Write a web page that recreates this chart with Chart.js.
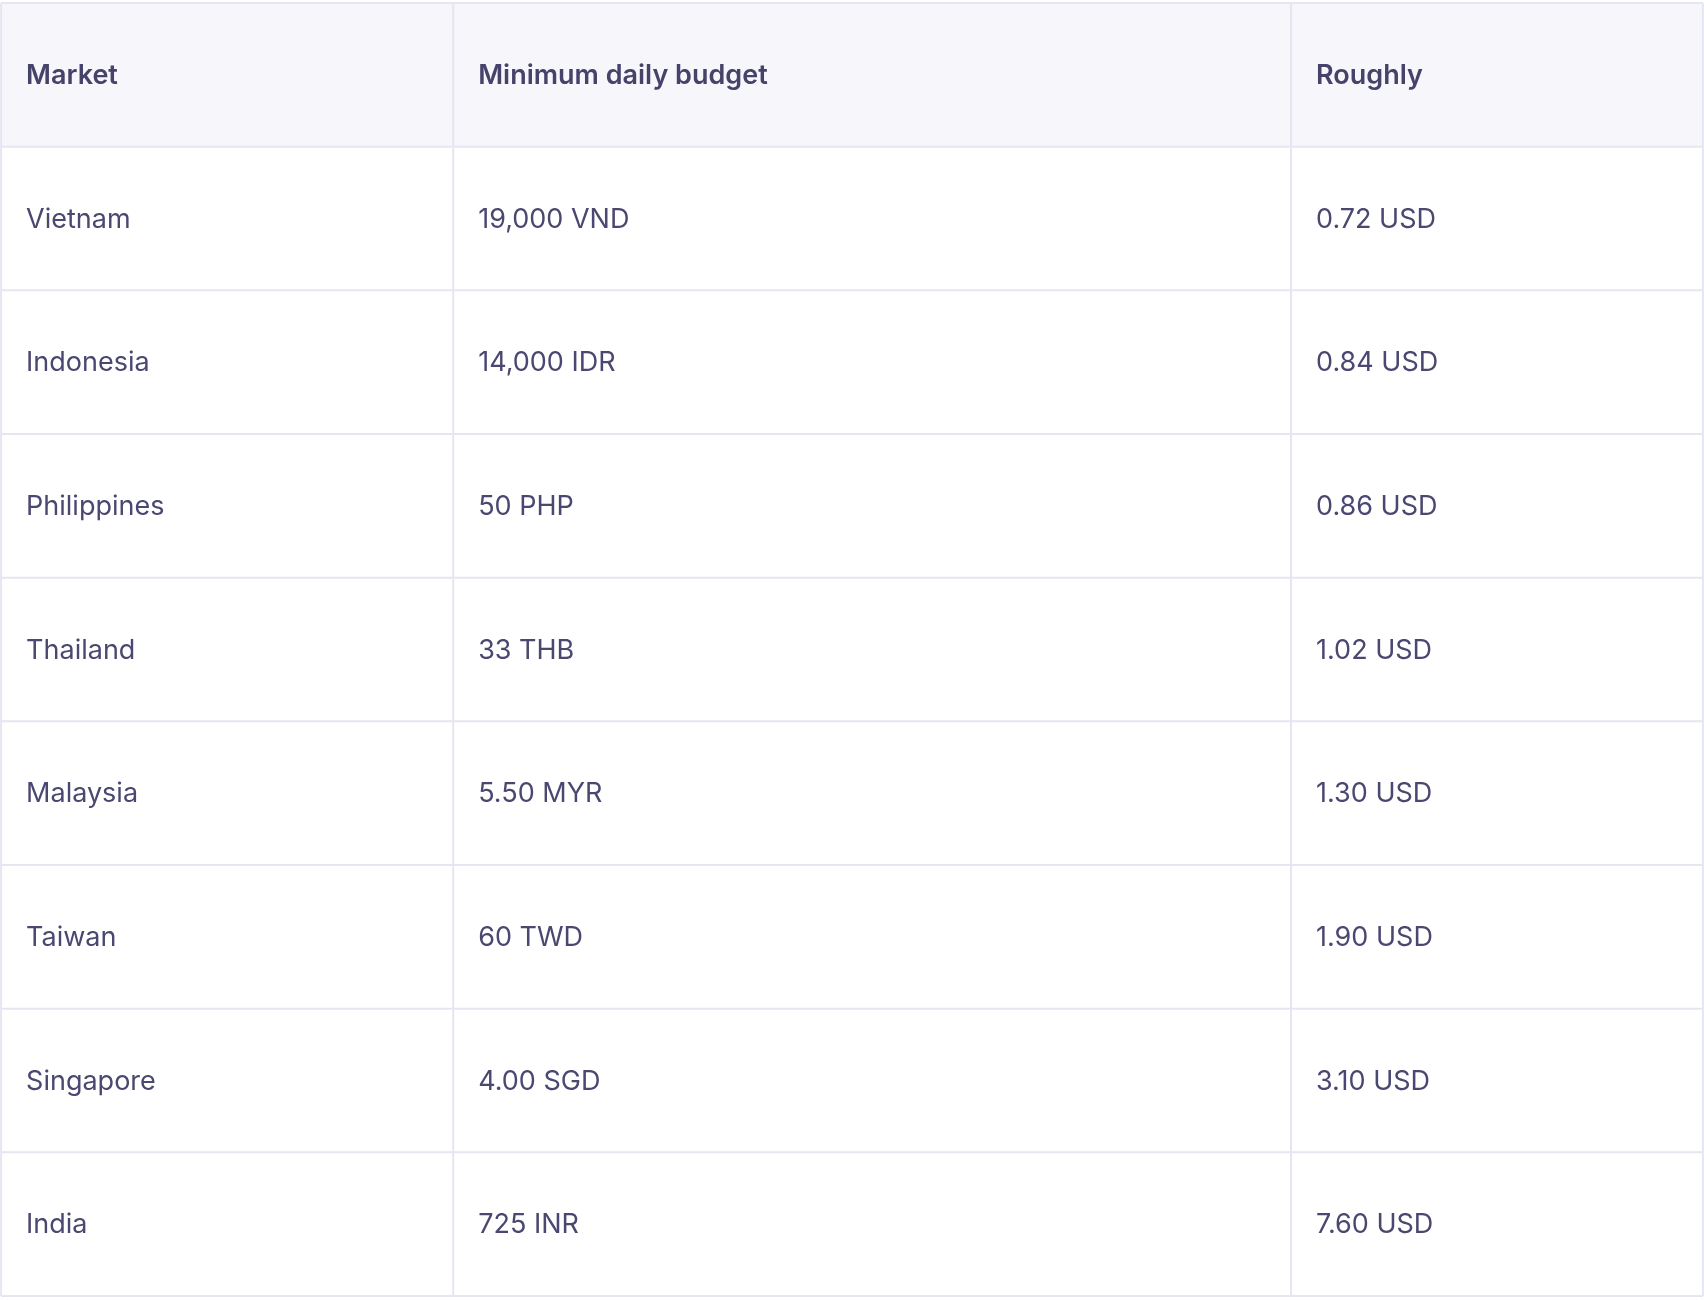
<!DOCTYPE html>
<html>
<head>
<meta charset="utf-8">
<script src="https://cdn.jsdelivr.net/npm/chart.js@4"></script>
<style>
  body { margin: 0; background: #fff; overflow: hidden; }
  #wrap { width: 1704px; height: 1300px; }
</style>
</head>
<body>
<div id="wrap"><canvas id="budgetTable"></canvas></div>
<script>
const headers = ['Market', 'Minimum daily budget', 'Roughly'];
const markets = ['Vietnam', 'Indonesia', 'Philippines', 'Thailand', 'Malaysia', 'Taiwan', 'Singapore', 'India'];
const localBudgets = ['19,000 VND', '14,000 IDR', '50 PHP', '33 THB', '5.50 MYR', '60 TWD', '4.00 SGD', '725 INR'];
const usdBudgets = [0.72, 0.84, 0.86, 1.02, 1.30, 1.90, 3.10, 7.60];

// column edges in x-scale units
const colEdges = [1, 417, 1188, 1567];

const tablePlugin = {
    id: 'tableCells',
    afterDraw(chart) {
        const ctx = chart.ctx;
        const x = chart.scales.x, y = chart.scales.y;
        const k = chart.width / 1568;
        const rows = y.getLabels().length;
        const band = (y.getPixelForValue(1) - y.getPixelForValue(0));
        const left = x.getPixelForValue(colEdges[0]);
        const right = x.getPixelForValue(colEdges[colEdges.length - 1]);
        const top = y.getPixelForValue(0) - band / 2;
        const bottom = y.getPixelForValue(rows - 1) + band / 2;

        ctx.save();
        ctx.fillStyle = '#f6f6fb';
        ctx.fillRect(left, top, right - left, band);

        ctx.strokeStyle = '#e6e6f2';
        ctx.lineWidth = 2;
        ctx.beginPath();
        for (let i = 0; i <= rows; i++) {
            const py = top + i * band;
            ctx.moveTo(left, py); ctx.lineTo(right, py);
        }
        colEdges.forEach(c => {
            const px = x.getPixelForValue(c);
            ctx.moveTo(px, top); ctx.lineTo(px, bottom);
        });
        ctx.stroke();

        ctx.textBaseline = 'middle';
        for (let r = 0; r < rows; r++) {
            const cy = y.getPixelForValue(r);
            const cells = r === 0 ? headers
                : [markets[r - 1], localBudgets[r - 1], usdBudgets[r - 1].toFixed(2) + ' USD'];
            ctx.font = (r === 0 ? '600 ' : '400 ') + Math.round(24.5 * k) + 'px Inter, "Noto Sans", sans-serif';
            ctx.fillStyle = r === 0 ? '#46436b' : '#4a4770';
            cells.forEach((t, c) => {
                ctx.fillText(t, x.getPixelForValue(colEdges[c]) + 23 * k, cy + 1);
            });
        }
        ctx.restore();
    }
};

new Chart(document.getElementById('budgetTable'), {
    type: 'bar',
    data: {
        labels: [headers[0], ...markets],
        datasets: [{
            label: 'USD',
            data: [null, ...usdBudgets],
            backgroundColor: 'rgba(0,0,0,0)'
        }]
    },
    options: {
        indexAxis: 'y',
        responsive: true,
        maintainAspectRatio: false,
        animation: false,
        layout: { padding: { top: 3, bottom: 4 } },
        plugins: { legend: { display: false }, tooltip: { enabled: false } },
        scales: {
            x: { type: 'linear', min: 0, max: 1568, display: false },
            y: { type: 'category', offset: true, display: false }
        }
    },
    plugins: [tablePlugin]
});
</script>
</body>
</html>
